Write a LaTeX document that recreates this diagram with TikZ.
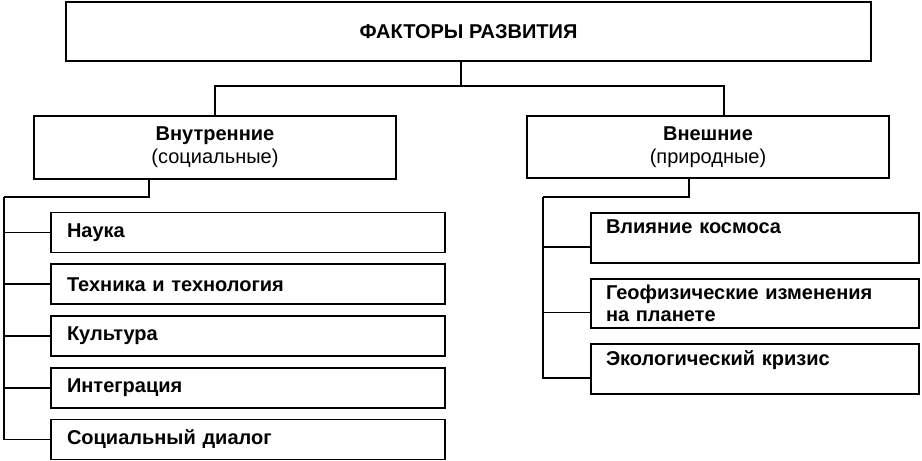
\documentclass[tikz,border=0pt]{standalone}
\usepackage{fontspec}
\setmainfont{Liberation Sans}
\begin{document}
\begin{tikzpicture}[x=1pt,y=-1pt,line width=1.8pt,
        box/.style={draw,rectangle,inner sep=0pt,font=\fontsize{20}{23}\selectfont},
        head/.style={box,align=center},
        litem/.style={box,font=\bfseries\fontsize{20}{23}\selectfont,align=left,inner xsep=16pt,text width=362pt,minimum height=40pt},
        ritem/.style={box,font=\bfseries\fontsize{20}{22}\selectfont,align=left,inner xsep=15pt,text width=298pt,minimum height=50pt}]
    \useasboundingbox (0,0) rectangle (922,461);
    \node[head,minimum width=805pt,minimum height=59pt] (fak) at (468.5,31.5) {\textbf{ФАКТОРЫ РАЗВИТИЯ}};
    \node[head,minimum width=362pt,minimum height=63pt] (vnutr) at (215,147.5) {\textbf{Внутренние}\\(социальные)};
    \node[head,minimum width=362pt,minimum height=62pt] (vnesh) at (708,147) {\textbf{Внешние}\\(природные)};
    \coordinate (tj) at (461,86);
    \coordinate (lj) at (4,197);
    \coordinate (rj) at (543,197);
    \draw (tj |- fak.south) -- (tj);
    \draw (vnutr.north) |- (tj) -| ([xshift=16pt]vnesh.north);
    \draw ([xshift=-66pt]vnutr.south) |- (lj);
    \draw ([xshift=-19pt]vnesh.south) |- (rj);
    % social factors
    \foreach \t [count=\i from 0] in {Наука,Техника и технология,Культура,Интеграция,Социальный диалог} {
        \node[litem] (l\i) at (248,{232.5+51.75*\i}) {\t};
        \draw (lj) |- (l\i.west);
    }
    % natural factors
    \node[ritem] (r1) at (755,238) {Влияние космоса\\~};
    \node[ritem,minimum height=49pt] (r2) at (755,303.5) {Геофизические изменения\\на планете};
    \node[ritem] (r3) at (755,369) {Экологический кризис\\~};
    \foreach \r in {r1,r2,r3}
        \draw (rj) |- ([yshift=-9pt]\r.west);
\end{tikzpicture}
\end{document}
